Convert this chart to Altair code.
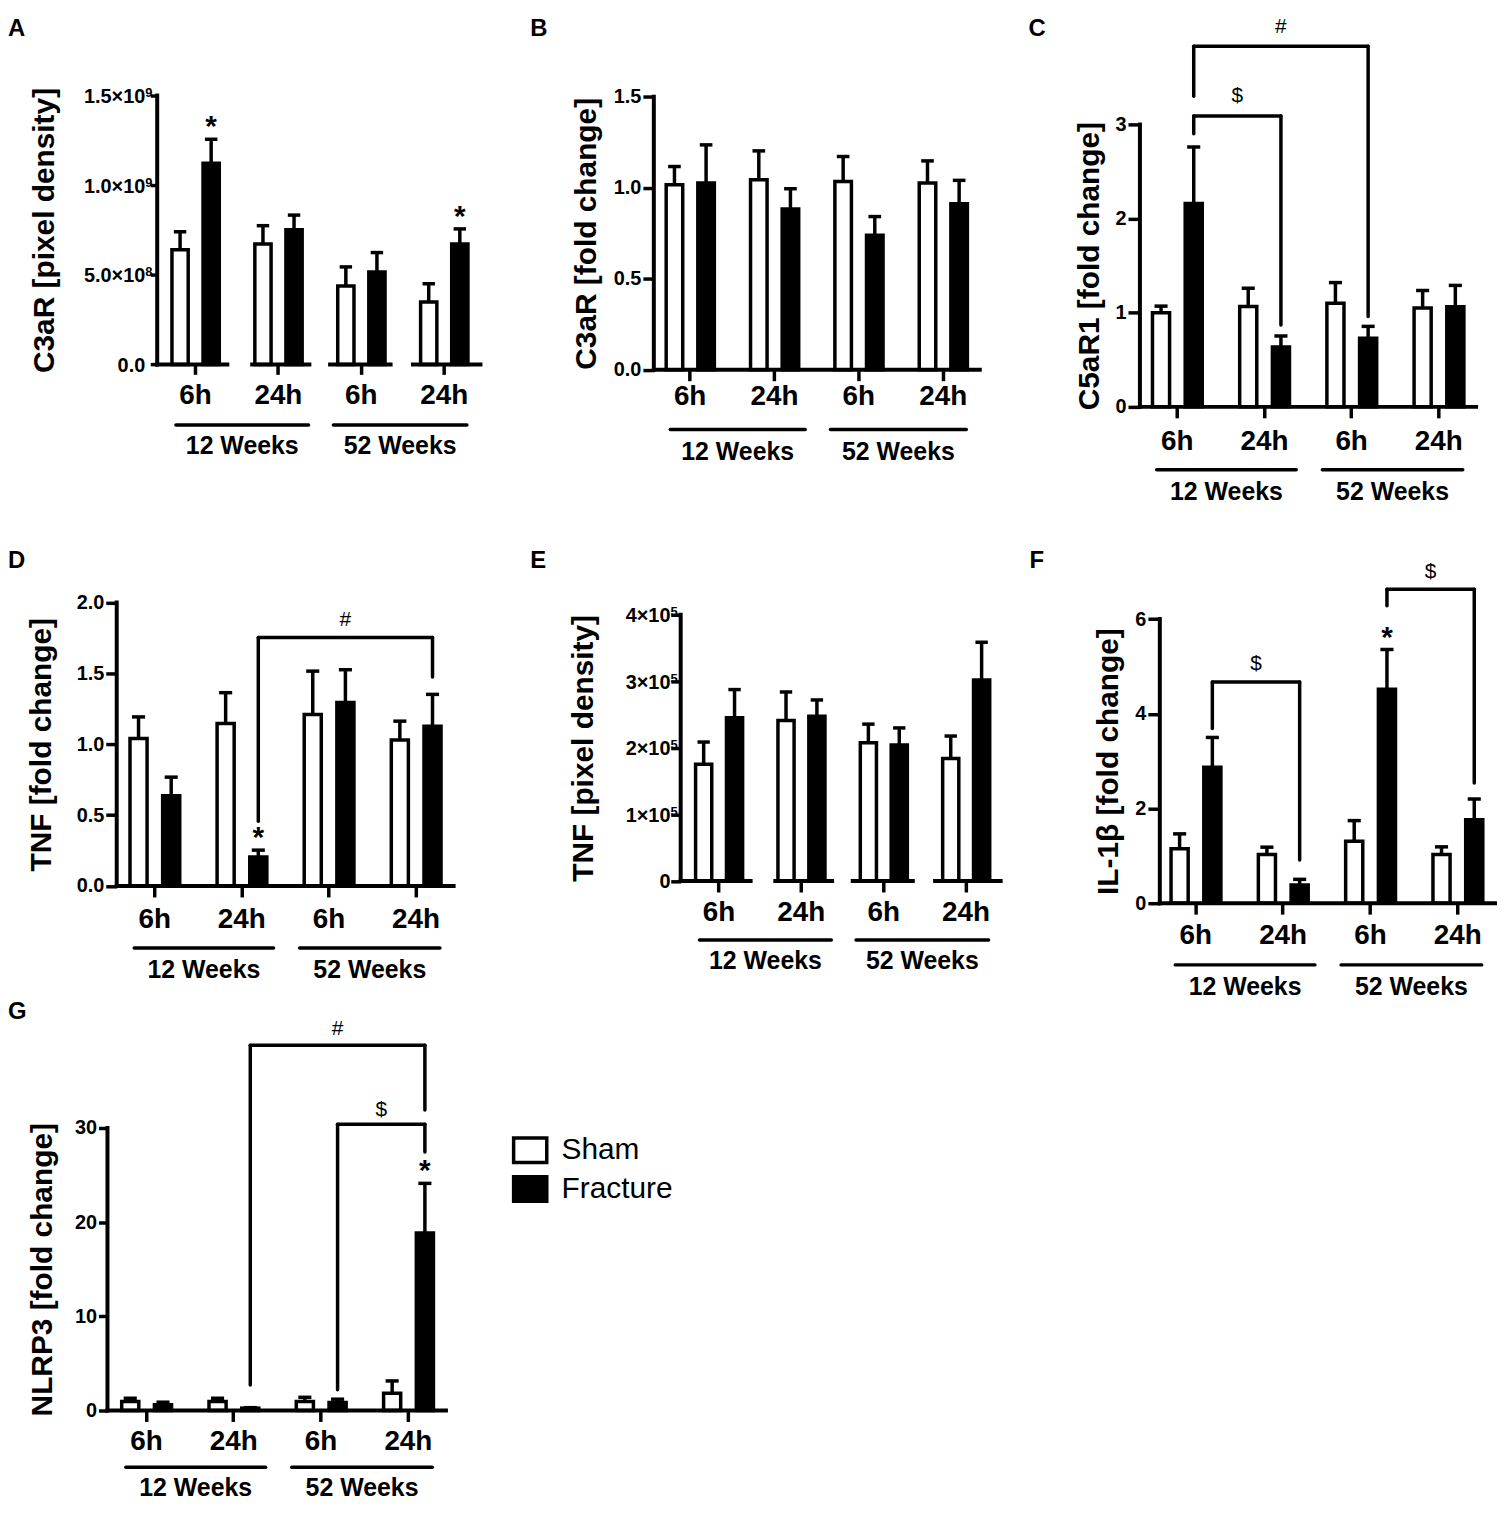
import json
import altair as alt
import pandas as pd

FONT = "Liberation Sans"
GROUPS = ["Sham", "Fracture"]
TIME_LABELS = ["6h", "24h", "6h", "24h"]
AGE_LABELS = ["12 Weeks", "52 Weeks"]

# ---------------- data (mean and SEM) ----------------
A_sham = [0.64e9, 0.672e9, 0.437e9, 0.348e9]
A_sham_sem = [0.10e9, 0.102e9, 0.107e9, 0.102e9]
A_frac = [1.122e9, 0.752e9, 0.515e9, 0.672e9]
A_frac_sem = [0.134e9, 0.081e9, 0.109e9, 0.084e9]
A_yticks = [0, 5e8, 1e9, 1.5e9]
A_ylabels = ["0.0", "5.0×10", "1.0×10", "1.5×10"]
A_yexp = ["", "8", "9", "9"]
A_stars = [0, 3]
A_brackets = []

B_sham = [1.017, 1.044, 1.035, 1.026]
B_sham_sem = [0.10, 0.159, 0.137, 0.122]
B_frac = [1.026, 0.884, 0.740, 0.913]
B_frac_sem = [0.21, 0.111, 0.102, 0.128]
B_yticks = [0, 0.5, 1.0, 1.5]
B_ylabels = ["0.0", "0.5", "1.0", "1.5"]
B_yexp = None
B_stars = []
B_brackets = []

C_sham = [1.0, 1.067, 1.10, 1.05]
C_sham_sem = [0.07, 0.193, 0.22, 0.186]
C_frac = [2.16, 0.637, 0.73, 1.064]
C_frac_sem = [0.60, 0.116, 0.125, 0.226]
C_yticks = [0, 1, 2, 3]
C_ylabels = ["0", "1", "2", "3"]
C_yexp = None
C_stars = []
# (label, from fracture bar, to fracture bar, level, left end, right end, label y)
C_brackets = [("#", 0, 2, 3.83, 3.30, 0.96, 4.03), ("$", 0, 1, 3.09, 2.90, 0.87, 3.30)]

D_sham = [1.041, 1.146, 1.21, 1.03]
D_sham_sem = [0.152, 0.218, 0.306, 0.133]
D_frac = [0.636, 0.204, 1.294, 1.128]
D_frac_sem = [0.132, 0.049, 0.232, 0.224]
D_yticks = [0, 0.5, 1.0, 1.5, 2.0]
D_ylabels = ["0.0", "0.5", "1.0", "1.5", "2.0"]
D_yexp = None
D_stars = [1]
D_brackets = [("#", 1, 3, 1.754, 0.456, 1.474, 1.88)]

E_sham = [1.755e5, 2.412e5, 2.078e5, 1.839e5]
E_sham_sem = [0.333e5, 0.428e5, 0.279e5, 0.339e5]
E_frac = [2.452e5, 2.477e5, 2.043e5, 3.02e5]
E_frac_sem = [0.424e5, 0.243e5, 0.257e5, 0.567e5]
E_yticks = [0, 1e5, 2e5, 3e5, 4e5]
E_ylabels = ["0", "1×10", "2×10", "3×10", "4×10"]
E_yexp = ["", "5", "5", "5", "5"]
E_stars = []
E_brackets = []

F_sham = [1.149, 1.029, 1.31, 1.029]
F_sham_sem = [0.315, 0.154, 0.434, 0.161]
F_frac = [2.872, 0.385, 4.517, 1.765]
F_frac_sem = [0.628, 0.119, 0.84, 0.435]
F_yticks = [0, 2, 4, 6]
F_ylabels = ["0", "2", "4", "6"]
F_yexp = None
F_stars = [2]
F_brackets = [("$", 0, 1, 4.67, 3.69, 0.91, 5.06), ("$", 2, 3, 6.63, 6.28, 2.54, 7.0)]

G_sham = [0.95, 0.95, 0.95, 1.83]
G_sham_sem = [0.35, 0.35, 0.45, 1.31]
G_frac = [0.6, 0.25, 0.85, 18.84]
G_frac_sem = [0.28, 0.05, 0.35, 5.28]
G_yticks = [0, 10, 20, 30]
G_ylabels = ["0", "10", "20", "30"]
G_yexp = None
G_stars = [3]
G_brackets = [("#", 1, 3, 38.8, 2.71, 31.9, 40.5), ("$", 2, 3, 30.4, 2.19, 27.46, 31.9)]

# ---------------- layout / style constants ----------------
SHAM_OFF, FRAC_OFF, HALF_BAR, HALF_CAP = -0.18, 0.195, 0.098, 0.075
AGE_SPANS = [(-0.23, 1.37), (1.67, 3.28)]
GAPPED = [(None, 0.39), (0.69, 1.38), (1.63, 2.36), (2.63, None)]
ROW_SPACING = 135

LAY = {
    "A": dict(L=8, W=512, T=8, Z=362.3, Tt=92, t0=196, p=83.33, ax=158, en=483, seg=True,
              xtick=10, xpad=7, ytick=7, ypad=4, lgap=12, tx=-104.3, line=61, text=90.3, let=(0, 5)),
    "B": dict(L=520, W=500, T=8, Z=367.7, Tt=93.3, t0=693.3, p=84.8, ax=657.3, en=985, seg=False,
              xtick=11, xpad=2, ytick=11, ypad=2, lgap=13, tx=-58.6, line=60, text=90.6, let=(13, 5)),
    "C": dict(L=1020, W=478, T=8, Z=405, Tt=121, t0=1183, p=87.67, ax=1146, en=1484, seg=False,
              xtick=11, xpad=9.7, ytick=12, ypad=2, lgap=13, tx=-41.7, line=63.3, text=93.3, let=(14, 5)),
    "D": dict(L=8, W=512, T=540, Z=886.7, Tt=601.7, t0=155, p=87.57, ax=117.3, en=456, seg=False,
              xtick=11, xpad=8.7, ytick=11, ypad=2, lgap=12, tx=-67, line=62.3, text=92.6, let=(0, 8)),
    "E": dict(L=520, W=500, T=540, Z=881.7, Tt=614, t0=722.3, p=82.8, ax=684.3, en=1006, seg=True,
              xtick=11, xpad=7, ytick=10, ypad=2, lgap=10.3, tx=-89, line=59.3, text=88.3, let=(13, 8)),
    "F": dict(L=1020, W=478, T=540, Z=904, Tt=618.3, t0=1201.7, p=87.77, ax=1166, en=1503, seg=False,
              xtick=11, xpad=8, ytick=12, ypad=2, lgap=14, tx=-42.3, line=62, text=92, let=(15, 8)),
    "G": dict(L=8, W=512, T=1039, Z=1414, Tt=1130, t0=146.7, p=87.77, ax=108, en=448.3, seg=False,
              xtick=11, xpad=6, ytick=9, ypad=2, lgap=11, tx=-56, line=57, text=86, let=(0, -38)),
}

LEGEND = alt.Legend(
    orient="none", legendX=506.5, legendY=1125.9, title=None, direction="vertical",
    symbolType="M-1,-0.74H1V0.74H-1Z", symbolSize=1109, symbolStrokeColor="black",
    symbolStrokeWidth=3.5, symbolOpacity=1, labelFont=FONT, labelFontSize=30,
    labelFontWeight="normal", labelColor="black", labelOffset=13, rowPadding=0, padding=0,
)
FILL_SCALE = alt.Scale(domain=GROUPS, range=["white", "black"])


def panel(letter, ytitle, sham, sham_sem, frac, frac_sem, yticks, ylabels, yexp, stars, brackets):
    lay = LAY[letter]
    L, W, T, Z, Tt, t0, p = lay["L"], lay["W"], lay["T"], lay["Z"], lay["Tt"], lay["t0"], lay["p"]
    vmax = yticks[-1]
    k = (Z - Tt) / vmax
    H = Z - T
    xs = alt.Scale(domain=[(L - t0) / p, (L + W - t0) / p], nice=False, zero=False)
    ys = alt.Scale(domain=[0, H / k], nice=False, zero=False)
    x_start = (lay["ax"] - t0) / p
    x_end = (lay["en"] - t0) / p
    manual_labels = yexp is not None

    xaxis = alt.Axis(
        values=[0, 1, 2, 3], labelExpr=f"{json.dumps(TIME_LABELS)}[datum.value]",
        domain=False, grid=False, ticks=True, tickSize=lay["xtick"], tickWidth=3.5, tickColor="black",
        labelFont=FONT, labelFontSize=28, labelFontWeight="bold", labelColor="black",
        labelPadding=lay["xpad"], labelAngle=0, labelFlush=False, labelOverlap=False, title=None,
    )
    yaxis = alt.Axis(
        values=yticks,
        labelExpr=f"{json.dumps(ylabels, ensure_ascii=False)}[indexof({json.dumps(yticks)}, datum.value)]",
        labels=not manual_labels,
        domain=False, grid=False, ticks=True, tickSize=lay["ytick"], tickWidth=3.5, tickColor="black",
        offset=-(lay["ax"] - L), labelFont=FONT, labelFontSize=20, labelFontWeight="bold",
        labelColor="black", labelPadding=lay["ypad"], labelFlush=False, labelOverlap=False,
        title=ytitle, titleFont=FONT, titleFontSize=30, titleFontWeight="bold", titleColor="black",
        titleAngle=270, titleBaseline="alphabetic", titleAlign="center",
        titleX=lay["tx"], titleY=(Tt + Z) / 2 - T,
    )

    def X(f):
        return alt.X(f, type="quantitative", scale=xs, axis=xaxis)

    def Y(f):
        return alt.Y(f, type="quantitative", scale=ys, axis=yaxis)

    rows = []
    for i in range(4):
        for g, m, s, off in (("Sham", sham[i], sham_sem[i], SHAM_OFF),
                             ("Fracture", frac[i], frac_sem[i], FRAC_OFF)):
            c = i + off
            rows.append(dict(group=g, xc=c, xl=c - HALF_BAR, xr=c + HALF_BAR,
                             cl=c - HALF_CAP, cr=c + HALF_CAP, mean=m, top=m + s, zero=0.0))
    bars_df = pd.DataFrame(rows)

    layers = []
    layers.append(alt.Chart(bars_df).mark_bar(stroke="black", strokeWidth=3.5).encode(
        x=X("xl"), x2="xr", y=Y("mean"), y2="zero",
        fill=alt.Fill("group:N", scale=FILL_SCALE, legend=LEGEND),
    ))
    layers.append(alt.Chart(bars_df).mark_rule(color="black", strokeWidth=3.5).encode(
        x=X("xc"), y=Y("mean"), y2="top"))
    layers.append(alt.Chart(bars_df).mark_rule(color="black", strokeWidth=3.5).encode(
        x=X("cl"), x2="cr", y=Y("top")))

    # axis lines
    if lay["seg"]:
        segs = [(x_start if a is None else a, x_end if b is None else b) for a, b in GAPPED]
    else:
        segs = [(x_start, x_end)]
    xline_df = pd.DataFrame({"x": [a for a, _ in segs], "x2": [b for _, b in segs], "y": [0.0] * len(segs)})
    layers.append(alt.Chart(xline_df).mark_rule(color="black", strokeWidth=4, strokeCap="square").encode(
        x=X("x"), x2="x2", y=Y("y")))
    yline_df = pd.DataFrame({"x": [x_start], "y": [0.0], "y2": [vmax]})
    layers.append(alt.Chart(yline_df).mark_rule(color="black", strokeWidth=4, strokeCap="square").encode(
        x=X("x"), y=Y("y"), y2="y2"))

    # tick labels with raised exponents (drawn through the scales)
    if manual_labels:
        lab_df = pd.DataFrame({"x": [x_start] * len(yticks), "y": yticks, "base": ylabels, "exp": yexp})
        layers.append(alt.Chart(lab_df).mark_text(
            font=FONT, fontSize=20, fontWeight="bold", color="black", align="right",
            baseline="middle", dx=-lay["lgap"], dy=1.5).encode(x=X("x"), y=Y("y"), text="base:N"))
        layers.append(alt.Chart(lab_df).mark_text(
            font=FONT, fontSize=13, fontWeight="bold", color="black", align="left",
            baseline="alphabetic", dx=-lay["lgap"], dy=1.5).encode(x=X("x"), y=Y("y"), text="exp:N"))

    if stars:
        star_df = pd.DataFrame({"xc": [i + FRAC_OFF for i in stars],
                                "top": [frac[i] + frac_sem[i] for i in stars]})
        layers.append(alt.Chart(star_df).mark_text(
            text="*", font=FONT, fontSize=30, fontWeight="bold", color="black",
            baseline="alphabetic", align="center", dy=-3).encode(x=X("xc"), y=Y("top")))

    if brackets:
        seg_rows, lab_rows = [], []
        for lab, a, b, level, lend, rend, ly in brackets:
            xa, xb = a + FRAC_OFF, b + FRAC_OFF
            seg_rows += [dict(x=xa, x2=xa, y=lend, y2=level),
                         dict(x=xa, x2=xb, y=level, y2=level),
                         dict(x=xb, x2=xb, y=level, y2=rend)]
            lab_rows.append(dict(x=(xa + xb) / 2, y=ly, t=lab))
        layers.append(alt.Chart(pd.DataFrame(seg_rows)).mark_rule(
            color="black", strokeWidth=3.5, strokeCap="round").encode(
            x=X("x"), x2="x2", y=Y("y"), y2="y2"))
        layers.append(alt.Chart(pd.DataFrame(lab_rows)).mark_text(
            font=FONT, fontSize=21, color="black", baseline="middle", align="center").encode(
            x=X("x"), y=Y("y"), text="t:N"))

    age_df = pd.DataFrame({"x": [a for a, _ in AGE_SPANS], "x2": [b for _, b in AGE_SPANS],
                           "xm": [(a + b) / 2 for a, b in AGE_SPANS], "label": AGE_LABELS})
    layers.append(alt.Chart(age_df).mark_rule(color="black", strokeWidth=3.5, strokeCap="round").encode(
        x=X("x"), x2="x2", y=alt.value(H + lay["line"])))
    layers.append(alt.Chart(age_df).mark_text(
        font=FONT, fontSize=25, fontWeight="bold", color="black", baseline="alphabetic",
        align="center").encode(x=X("xm"), y=alt.value(H + lay["text"]), text="label:N"))

    lx, ly = lay["let"]
    layers.append(alt.Chart(pd.DataFrame({"t": [letter]})).mark_text(
        font=FONT, fontSize=24, fontWeight="bold", color="black", align="left", baseline="top").encode(
        x=alt.value(lx), y=alt.value(ly), text="t:N"))

    return alt.layer(*layers).properties(width=W, height=H)


pA = panel("A", "C3aR [pixel density]", A_sham, A_sham_sem, A_frac, A_frac_sem, A_yticks, A_ylabels, A_yexp, A_stars, A_brackets)
pB = panel("B", "C3aR [fold change]", B_sham, B_sham_sem, B_frac, B_frac_sem, B_yticks, B_ylabels, B_yexp, B_stars, B_brackets)
pC = panel("C", "C5aR1 [fold change]", C_sham, C_sham_sem, C_frac, C_frac_sem, C_yticks, C_ylabels, C_yexp, C_stars, C_brackets)
pD = panel("D", "TNF [fold change]", D_sham, D_sham_sem, D_frac, D_frac_sem, D_yticks, D_ylabels, D_yexp, D_stars, D_brackets)
pE = panel("E", "TNF [pixel density]", E_sham, E_sham_sem, E_frac, E_frac_sem, E_yticks, E_ylabels, E_yexp, E_stars, E_brackets)
pF = panel("F", "IL-1β [fold change]", F_sham, F_sham_sem, F_frac, F_frac_sem, F_yticks, F_ylabels, F_yexp, F_stars, F_brackets)
pG = panel("G", "NLRP3 [fold change]", G_sham, G_sham_sem, G_frac, G_frac_sem, G_yticks, G_ylabels, G_yexp, G_stars, G_brackets)

chart = alt.concat(
    pA, pB, pC, pD, pE, pF, pG, columns=3, spacing={"row": ROW_SPACING, "column": 0},
).properties(
    bounds="flush", align="each", padding=0,
).configure(font=FONT).configure_view(strokeWidth=0)

chart.save("out.html", embed_options={"renderer": "svg", "actions": False})
